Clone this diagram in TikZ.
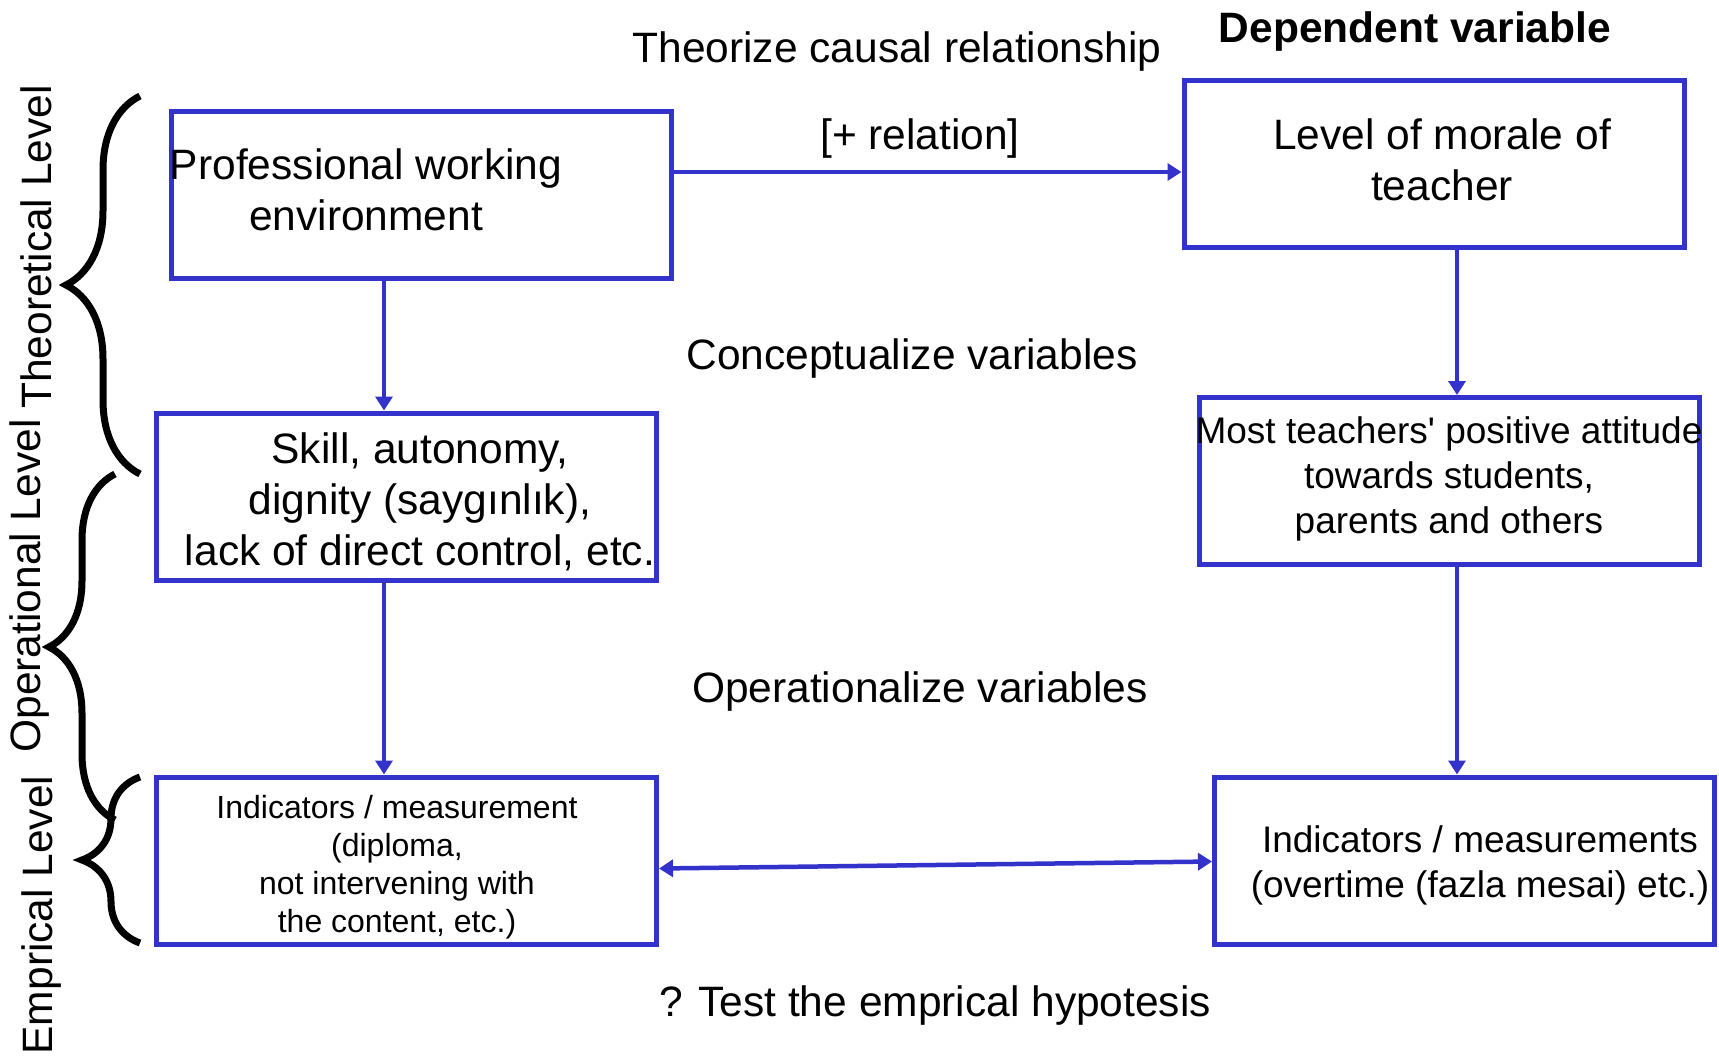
\documentclass[tikz,border=0pt]{standalone}
\usepackage{fontspec}
\setmainfont{Liberation Sans}
\usetikzlibrary{positioning, arrows.meta, decorations.pathreplacing}
\definecolor{boxblue}{RGB}{51,51,204}

\begin{document}
\begin{tikzpicture}[x=1pt, y=-1pt, >={Triangle[length=14pt, width=17pt]},
    box/.style = {draw=boxblue, line width=5pt, minimum width=500pt, minimum height=167pt, inner sep=0pt},
    arrow/.style = {draw=boxblue, line width=4.5pt, ->},
    big/.style = {font=\fontsize{42.5}{51}\selectfont, align=center, inner sep=0pt},
    mid/.style = {font=\fontsize{37}{45}\selectfont, align=center, inner sep=0pt},
    small/.style = {font=\fontsize{32}{38}\selectfont, align=center, inner sep=0pt},
    brc/.style = {decorate, line width=7pt}]
    \useasboundingbox (0,0) rectangle (1719,1060);

    \node[box] (env) at (421,194.5) {};
    \node[box] (skill) [below=130pt of env, xshift=-14.5pt] {};
    \node[box] (ind) [below=192pt of skill] {};
    \node[box] (morale) [right=508pt of env, yshift=30.5pt] {};
    \node[box] (attitude) [below=145pt of morale, xshift=15pt] {};
    \node[box] (meas) [below=207.5pt of attitude, xshift=15.5pt] {};

    \node[big] (envtext) at ([xshift=-55pt, yshift=4.5pt]env.center) {Professional working\\environment};
    \node[big] (moraletext) at ([xshift=8pt, yshift=4pt]morale.center) {Level of morale of\\teacher};
    \node[big] (skilltext) at ([xshift=13.5pt, yshift=-5.5pt]skill.center) {Skill, autonomy,\\dignity (saygınlık),\\lack of direct control, etc.};
    \node[mid] (atttext) at ([yshift=2pt]attitude.center) {Most teachers\textquotesingle{} positive attitude\\towards students,\\parents and others};
    \node[small] (indtext) at ([xshift=-9.5pt, yshift=-6.5pt]ind.center) {Indicators / measurement\\(diploma,\\not intervening with\\the content, etc.)};
    \node[mid] (meastext) at ([xshift=15.5pt, yshift=-4.5pt]meas.center) {Indicators / measurements\\(overtime (fazla mesai) etc.)};

    \node[big] (theorize) at (897,51.5) {Theorize causal relationship};
    \node[big, font=\fontsize{42.5}{51}\selectfont\bfseries] (dependent) at (1415,31.5) {Dependent variable};
    \node[big] (relation) at (920,138.5) {[+ relation]};
    \node[big] (concept) at (912,358.5) {Conceptualize variables};
    \node[big] (operation) at (920,692) {Operationalize variables};
    \node[big] (test) at (935,1005.5) {? Test the emprical hypotesis};

    \node[big, rotate=90] (theolabel) at (36,247) {Theoretical Level};
    \node[big, rotate=90] (oplabel) at (30,586) {Operational Level};
    \node[big, rotate=90] (emplabel) at (42,915) {Emprical Level};

    \coordinate (envright) at ([yshift=22.5pt]env.east);
    \coordinate (envdown) at ([xshift=-37pt]env.south);
    \coordinate (skilldown) at ([xshift=-22.5pt]skill.south);
    \coordinate (moraledown) at ([xshift=23pt]morale.south);
    \coordinate (attdown) at ([xshift=8pt]attitude.south);

    \draw[arrow] (envright) -- (envright -| morale.west);
    \draw[arrow] (envdown) -- (envdown |- skill.north);
    \draw[arrow] (skilldown) -- (skilldown |- ind.north);
    \draw[arrow] (moraledown) -- (moraledown |- attitude.north);
    \draw[arrow] (attdown) -- (attdown |- meas.north);
    \draw[arrow, <->] ([yshift=-8pt]ind.east) -- ([yshift=-1pt]meas.west);

    \coordinate (theotop) at (140,96);
    \coordinate (theobot) at (140,474);
    \coordinate (optop) at (115,474);
    \coordinate (opbot) at (115,820);
    \coordinate (emptop) at (140,777);
    \coordinate (empbot) at (140,943);

    \draw[brc, decoration={brace, amplitude=74pt}] (theobot) -- (theotop);
    \draw[brc, decoration={brace, amplitude=66pt}] (opbot) -- (optop);
    \draw[brc, decoration={brace, amplitude=58pt}] (empbot) -- (emptop);
\end{tikzpicture}
\end{document}
